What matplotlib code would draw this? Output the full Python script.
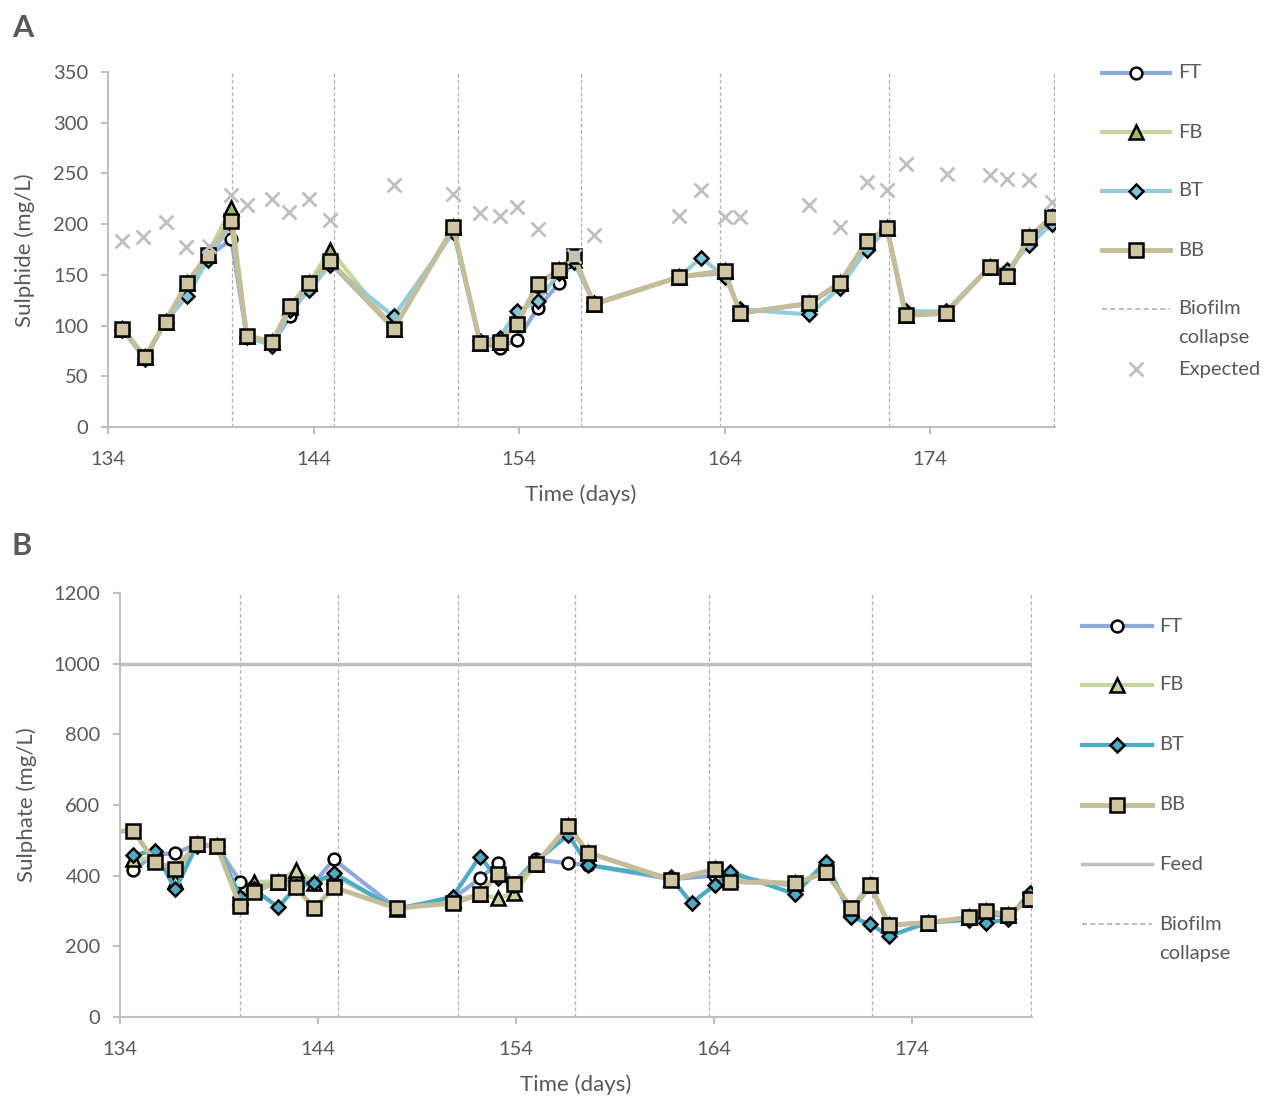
import numpy as np
import matplotlib.pyplot as plt
from matplotlib.lines import Line2D

plt.rcParams['font.family'] = ['Lato', 'DejaVu Sans']

nan = np.nan
W, H = 1269, 1097
GREY_TXT = '#595959'

# ---- panel A: sulphide ----
days_a = [134.7, 135.8, 136.8, 137.85, 138.85, 140.0, 140.75, 142.0, 142.85, 143.8,
          144.8, 147.9, 150.8, 152.1, 153.05, 153.9, 154.9, 155.95, 156.65, 157.65,
          161.8, 162.85, 164.0, 164.75, 168.1, 169.6, 170.9, 171.9, 172.8, 174.75,
          176.9, 177.75, 178.8, 179.9]
ft_a = [96, 68, 104, 140, 168, 185, 89, 82, 109, 140, 162, 97, 195, 83, 78, 86, 117, 142, 165, 121,
        148, nan, 152, 113, 121, 141, 180, 195, 111, 112, 158, 150, 185, 205]
fb_a = [97, 69, 104, 142, 170, 216, 90, 84, 118, 142, 175, 97, 197, 83, 84, 102, 140, 155, 165, 121,
        148, nan, 154, 112, 122, 142, 182, 196, 110, 112, 158, 149, 187, 207]
bt_a = [96, 67, 104, 129, 165, 200, 89, 80, 115, 135, 160, 109, 192, 85, 88, 114, 124, 152, 163, 122,
        148, 167, 148, 116, 111, 137, 175, 195, 114, 114, 158, 155, 179, 200]
bb_a = [97, 69, 104, 142, 170, 203, 90, 84, 119, 142, 164, 97, 197, 83, 84, 102, 141, 155, 169, 121,
        148, nan, 154, 112, 122, 142, 183, 196, 110, 112, 158, 149, 187, 207]

exp_days_a = [134.7, 135.7, 136.8, 137.8, 138.9, 140.0, 140.75, 142.0, 142.8, 143.8, 144.8,
              147.9, 150.8, 152.1, 153.05, 153.9, 154.9, 156.65, 157.65, 161.8, 162.85,
              164.0, 164.75, 168.1, 169.6, 170.9, 171.9, 172.8, 174.8, 176.9, 177.75, 178.8, 179.9]
exp_a = [183, 187, 202, 177, 178, 229, 219, 225, 212, 225, 204, 239, 230, 211, 208, 217, 195,
         169, 189, 208, 234, 207, 207, 219, 197, 242, 234, 259, 249, 248, 245, 244, 222]

# ---- panel B: sulphate ----
days_b = [133.5, 134.67, 135.75, 136.8, 137.87, 138.88, 140.07, 140.77, 142.0, 142.87,
          143.82, 144.8, 147.97, 150.8, 152.18, 153.08, 153.9, 155.0, 156.64, 157.65,
          161.83, 162.87, 164.05, 164.8, 168.1, 169.66, 170.95, 171.9, 172.85, 174.8,
          176.9, 177.77, 178.86, 179.96]
ft_b = [nan, 416, 460, 463, 489, 485, 383, 370, 383, 390, 380, 446, 307, 335, 392, 435, 380, 446, 435, 430,
        390, nan, 400, 400, 370, 420, 300, 370, 260, 267, 282, 290, 285, 340]
fb_b = [nan, 446, 450, 385, 489, 485, 340, 383, 383, 416, 380, 400, 307, 330, 347, 336, 350, 433, 541, 465,
        390, nan, 418, 390, 378, 410, 305, 374, 260, 267, 282, 300, 290, 335]
bt_b = [nan, 458, 471, 361, 485, 485, 340, 362, 310, 367, 380, 407, 305, 340, 454, 392, 375, 440, 515, 430,
        395, 322, 374, 411, 348, 440, 282, 263, 229, 267, 275, 267, 276, 352]
bb_b = [525, 527, 440, 419, 489, 485, 314, 355, 383, 367, 308, 367, 308, 322, 347, 405, 376, 433, 541, 465,
        388, nan, 418, 383, 378, 409, 308, 374, 260, 267, 282, 301, 289, 333]
feed_b = 1000

collapse_days = [140.05, 145.0, 151.05, 157.0, 163.75, 172.0, 180.0]

# styles
ft_style = dict(color='#8eaadb', lw=3, marker='o', ms=8.5, mfc='white', mec='black', mew=1.8)
fb_style_a = dict(color='#c3d69b', lw=3, marker='^', ms=9.5, mfc='#9bbb59', mec='black', mew=1.8)
fb_style_b = dict(color='#c3d69b', lw=3, marker='^', ms=9.5, mfc='#c3d69b', mec='black', mew=1.8)
bt_style_a = dict(color='#92cddc', lw=3, marker='D', ms=7, mfc='#7dc8dc', mec='black', mew=1.8)
bt_style_b = dict(color='#4bacc6', lw=3, marker='D', ms=7, mfc='#4bacc6', mec='black', mew=1.8)
bb_style = dict(color='#c4bd97', lw=3.5, marker='s', ms=10.5, mfc='#cfc5a0', mec='black', mew=1.8)
exp_style = dict(color='#bfbfbf', ls='none', marker='x', ms=10, mew=2)
collapse_style = dict(color='#b0b0b0', lw=0.9, ls=(0, (3, 2)))


def series(ax, x, y, **kw):
    x = np.asarray(x, float)
    y = np.asarray(y, float)
    m = ~np.isnan(y)
    ax.plot(x[m], y[m], **kw)


def style_axes(ax, ymax, ystep):
    for s in ['top', 'right']:
        ax.spines[s].set_visible(False)
    for s in ['left', 'bottom']:
        ax.spines[s].set_color('#bfbfbf')
        ax.spines[s].set_linewidth(1.5)
    ax.set_xlim(134, 180.07)
    ax.set_ylim(0, ymax)
    ax.set_xticks(range(134, 175, 10))
    ax.set_yticks(range(0, ymax + 1, ystep))
    ax.tick_params(colors='#bfbfbf', labelcolor=GREY_TXT, labelsize=14.5,
                   length=5, width=1.5)
    ax.tick_params(axis='x', pad=12)
    ax.tick_params(axis='y', pad=9)


fig = plt.figure(figsize=(W / 100, H / 100), dpi=100)
ax_a = fig.add_axes([108 / W, 1 - 427 / H, 947 / W, 355 / H])
ax_b = fig.add_axes([120 / W, 1 - 1017 / H, 912 / W, 424 / H])

# panel A
for d in collapse_days:
    ax_a.axvline(d, **collapse_style, zorder=1)
series(ax_a, days_a, ft_a, **ft_style)
series(ax_a, days_a, fb_a, **fb_style_a)
series(ax_a, days_a, bt_a, **bt_style_a)
series(ax_a, days_a, bb_a, **bb_style)
ax_a.plot(exp_days_a, exp_a, **exp_style)
style_axes(ax_a, 350, 50)

# panel B
for d in collapse_days:
    ax_b.axvline(d, **collapse_style, zorder=1)
ax_b.axhline(feed_b, color='#bfbfbf', lw=2.5, zorder=1)
series(ax_b, days_b, ft_b, **ft_style)
series(ax_b, days_b, fb_b, **fb_style_b)
series(ax_b, days_b, bt_b, **bt_style_b)
series(ax_b, days_b, bb_b, **bb_style)
style_axes(ax_b, 1200, 200)

# labels
txt = dict(color=GREY_TXT, fontsize=16)
fig.text(581 / W, 1 - 495 / H, 'Time (days)', ha='center', va='center', **txt)
fig.text(576 / W, 1 - 1085 / H, 'Time (days)', ha='center', va='center', **txt)
fig.text(25 / W, 1 - 250 / H, 'Sulphide (mg/L)', ha='center', va='center', rotation=90, **txt)
fig.text(27 / W, 1 - 805 / H, 'Sulphate (mg/L)', ha='center', va='center', rotation=90, **txt)
fig.text(12 / W, 1 - 28 / H, 'A', ha='left', va='center', fontsize=22, fontweight='bold', color=GREY_TXT)
fig.text(12 / W, 1 - 546 / H, 'B', ha='left', va='center', fontsize=22, fontweight='bold', color=GREY_TXT)


def legend_row(x0, x1, xt, y, label, kw, marker_only=False):
    yy = 1 - y / H
    if marker_only:
        fig.add_artist(Line2D([(x0 + x1) / 2 / W], [yy], transform=fig.transFigure, **kw))
    else:
        fig.add_artist(Line2D([x0 / W, (x0 + x1) / 2 / W, x1 / W], [yy] * 3,
                              transform=fig.transFigure, markevery=[1], **kw))
    fig.text(xt / W, yy, label, ha='left', va='center', color=GREY_TXT, fontsize=14.5)


# legend A
la = (1102, 1170, 1178)
legend_row(*la, 73, 'FT', ft_style)
legend_row(*la, 132, 'FB', fb_style_a)
legend_row(*la, 191, 'BT', bt_style_a)
legend_row(*la, 250, 'BB', bb_style)
legend_row(*la, 309, 'Biofilm', dict(collapse_style, lw=1.2))
fig.text(1178 / W, 1 - 338 / H, 'collapse', ha='left', va='center', color=GREY_TXT, fontsize=14.5)
legend_row(*la, 369, 'Expected', exp_style, marker_only=True)

# legend B
lb = (1082, 1152, 1159)
legend_row(*lb, 626, 'FT', ft_style)
legend_row(*lb, 685, 'FB', fb_style_b)
legend_row(*lb, 745, 'BT', bt_style_b)
legend_row(*lb, 805, 'BB', bb_style)
legend_row(*lb, 864, 'Feed', dict(color='#bfbfbf', lw=2.5))
legend_row(*lb, 924, 'Biofilm', dict(collapse_style, lw=1.2))
fig.text(1159 / W, 1 - 953 / H, 'collapse', ha='left', va='center', color=GREY_TXT, fontsize=14.5)

fig.savefig('out.png', dpi=100)
